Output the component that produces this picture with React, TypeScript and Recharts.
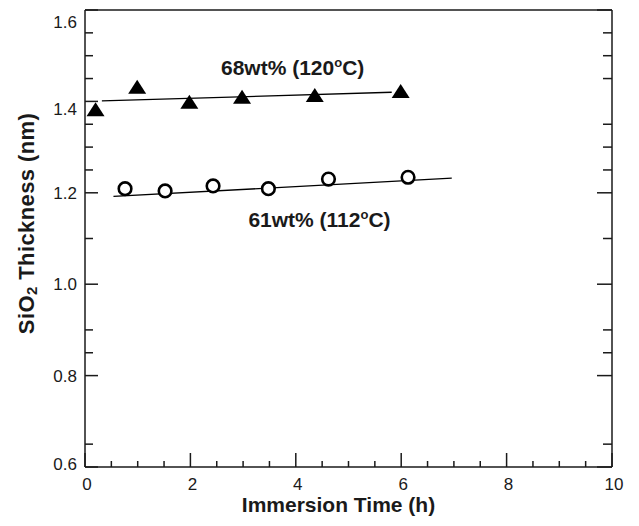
import React from "react";
import { ComposedChart, Scatter, Line, XAxis, YAxis, ReferenceLine, ReferenceDot } from "recharts";

// 68wt% (120ºC) series
const timesA = [0.2, 0.99, 1.98, 2.98, 4.36, 5.99];
const thickA = [1.383, 1.432, 1.399, 1.41, 1.414, 1.423];
// 61wt% (112ºC) series
const timesB = [0.76, 1.52, 2.43, 3.48, 4.62, 6.13];
const thickB = [1.209, 1.204, 1.215, 1.209, 1.23, 1.234];
// fitted lines (end points)
const fitTimesA = [0.32, 5.82];
const fitThickA = [1.401, 1.42];
const fitTimesB = [0.54, 6.96];
const fitThickB = [1.192, 1.232];

const xTicks = [0, 0.5, 1, 1.5, 2, 2.5, 3, 3.5, 4, 4.5, 5, 5.5, 6, 6.5, 7, 7.5, 8, 8.5, 9, 9.5, 10];
const xLabels = [0, 2, 4, 6, 8, 10];
const yTicksLeft = [0.6, 0.65, 0.8, 0.85, 0.9, 1.0, 1.1, 1.2, 1.25, 1.3, 1.35, 1.4, 1.45, 1.5, 1.55, 1.6];
const yTicksRight = [0.6, 0.65, 0.8, 0.85, 0.9, 1.0, 1.1, 1.2, 1.25, 1.3, 1.35, 1.45, 1.5, 1.55, 1.6];
const yLabels = [0.6, 0.8, 1.0, 1.2, 1.4, 1.6];

const dataA = timesA.map((x, i) => ({ x, y: thickA[i] }));
const dataB = timesB.map((x, i) => ({ x, y: thickB[i] }));
const fitA = fitTimesA.map((x, i) => ({ x, y: fitThickA[i] }));
const fitB = fitTimesB.map((x, i) => ({ x, y: fitThickB[i] }));

const FONT = "'Liberation Sans', Arial, Helvetica, sans-serif";
const INK = "#1a1a1a";

const isMajorY = (v: number) => yLabels.some((l) => Math.abs(l - v) < 1e-6);

const XTick = (props: any) => {
  const { x, y, payload } = props;
  const v = payload.value;
  const major = Math.abs(v % 2) < 1e-6;
  return (
    <g>
      <line x1={x} x2={x} y1={y} y2={y - (major ? 14 : 6)} stroke={INK} strokeWidth={1.5} />
      {xLabels.includes(v) && (
        <text x={x + 2} y={y + 23} textAnchor="middle" fontSize={17} fontFamily={FONT} fill={INK}>
          {v}
        </text>
      )}
    </g>
  );
};

const YTickLeft = (props: any) => {
  const { x, y, payload } = props;
  const v = payload.value;
  const major = isMajorY(v);
  // labels near the top sit a little below their ticks in the original
  const shift = v > 1.55 ? 12 : v > 1.35 ? 8 : v < 0.65 ? -3 : 0;
  return (
    <g>
      <line x1={x} x2={x + (major ? 13 : 8)} y1={y} y2={y} stroke={INK} strokeWidth={1.5} />
      {major && (
        <text x={x - 8} y={y + 6 + shift} textAnchor="end" fontSize={17} fontFamily={FONT} fill={INK}>
          {v.toFixed(1)}
        </text>
      )}
    </g>
  );
};

const YTickRight = (props: any) => {
  const { x, y, payload } = props;
  const major = isMajorY(payload.value);
  return <line x1={x} x2={x - (major ? 15 : 9)} y1={y} y2={y} stroke={INK} strokeWidth={1.5} />;
};

const Triangle = (props: any) => {
  const { cx, cy } = props;
  return <polygon points={`${cx},${cy - 7} ${cx - 9},${cy + 7} ${cx + 9},${cy + 7}`} fill="#000" />;
};

const Ring = (props: any) => {
  const { cx, cy } = props;
  return <circle cx={cx} cy={cy} r={6.3} fill="#fff" stroke="#000" strokeWidth={2.6} />;
};

const SeriesLabel = (text: string, temp: string) => (props: any) => {
  const { viewBox } = props;
  const cx = viewBox.x + viewBox.width / 2;
  const cy = viewBox.y + viewBox.height / 2;
  return (
    <text x={cx} y={cy + 7} textAnchor="middle" fontSize={21} fontWeight="bold" fontFamily={FONT} fill={INK}>
      {text} ({temp}
      <tspan fontSize={13} dy={-8}>o</tspan>
      <tspan dy={8}>C)</tspan>
    </text>
  );
};

const YTitle = (props: any) => {
  const { viewBox } = props;
  const cx = 18;
  const cy = viewBox.y + viewBox.height / 2 - 15;
  return (
    <text
      x={cx}
      y={cy}
      transform={`rotate(-90 ${cx} ${cy})`}
      textAnchor="middle"
      dominantBaseline="central"
      fontSize={22}
      fontWeight="bold"
      fontFamily={FONT}
      fill={INK}
      letterSpacing={0.4}
    >
      SiO
      <tspan fontSize={15} dy={5}>2</tspan>
      <tspan dy={-5}> Thickness (nm)</tspan>
    </text>
  );
};

const XTitle = (props: any) => {
  const { viewBox } = props;
  return (
    <text
      x={viewBox.x + viewBox.width / 2 - 10}
      y={viewBox.y + 45}
      textAnchor="middle"
      fontSize={21}
      fontWeight="bold"
      fontFamily={FONT}
      fill={INK}
    >
      Immersion Time (h)
    </text>
  );
};

export default function App() {
  return (
    <div style={{ width: 631, height: 510, background: "#fff" }}>
      <ComposedChart width={631} height={510} margin={{ top: 2, right: 0, bottom: 0, left: 0 }}>
        <XAxis
          type="number"
          dataKey="x"
          domain={[0, 10]}
          ticks={xTicks}
          interval={0}
          allowDataOverflow
          height={51}
          tickSize={0}
          tickMargin={0}
          tickLine={false}
          tick={<XTick />}
          axisLine={{ stroke: INK, strokeWidth: 1.5 }}
          label={{ content: <XTitle /> }}
        />
        <YAxis
          yAxisId="left"
          type="number"
          dataKey="y"
          domain={[0.6, 1.6]}
          ticks={yTicksLeft}
          interval={0}
          allowDataOverflow
          width={77}
          tickSize={0}
          tickMargin={0}
          tickLine={false}
          tick={<YTickLeft />}
          axisLine={{ stroke: INK, strokeWidth: 1.5 }}
          label={{ content: <YTitle /> }}
        />
        <YAxis
          yAxisId="right"
          orientation="right"
          type="number"
          dataKey="y"
          domain={[0.6, 1.6]}
          ticks={yTicksRight}
          interval={0}
          allowDataOverflow
          width={27}
          tickSize={0}
          tickMargin={0}
          tickLine={false}
          tick={<YTickRight />}
          axisLine={{ stroke: INK, strokeWidth: 1.5 }}
        />
        <ReferenceLine yAxisId="left" y={1.6} stroke={INK} strokeWidth={1.5} ifOverflow="visible" />
        <Line yAxisId="right" data={fitA} dataKey="y" type="linear" stroke="#000" strokeWidth={1.3} dot={false} activeDot={false} isAnimationActive={false} />
        <Line yAxisId="right" data={fitB} dataKey="y" type="linear" stroke="#000" strokeWidth={1.3} dot={false} activeDot={false} isAnimationActive={false} />
        <Scatter yAxisId="left" data={dataA} shape={<Triangle />} isAnimationActive={false} />
        <Scatter yAxisId="left" data={dataB} shape={<Ring />} isAnimationActive={false} />
        <ReferenceDot yAxisId="left" x={3.94} y={1.473} r={0} fill="none" stroke="none" label={{ content: SeriesLabel("68wt%", "120") }} />
        <ReferenceDot yAxisId="left" x={4.45} y={1.14} r={0} fill="none" stroke="none" label={{ content: SeriesLabel("61wt%", "112") }} />
      </ComposedChart>
    </div>
  );
}
